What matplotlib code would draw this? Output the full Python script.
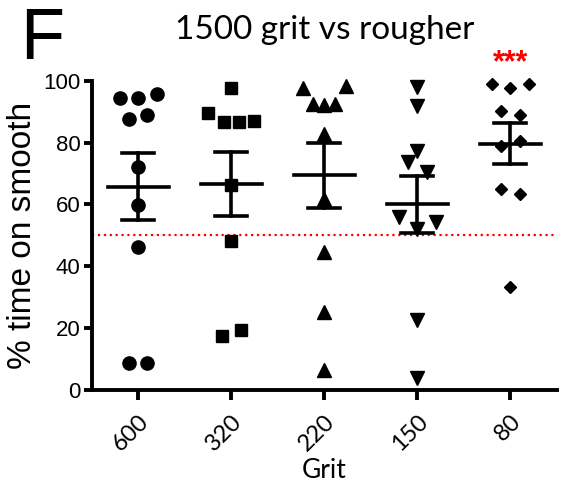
import numpy as np
import matplotlib
matplotlib.use("Agg")
import matplotlib.pyplot as plt

# grit groups and per-animal % time on smooth
grits = ["600", "320", "220", "150", "80"]
vals_600 = [94.3, 94.3, 95.7, 87.7, 88.9, 72.2, 59.8, 46.3, 8.6, 8.6]
vals_320 = [97.7, 89.7, 86.5, 86.5, 87.0, 66.2, 48.2, 17.5, 19.4]
vals_220 = [97.5, 98.3, 92.6, 92.2, 92.6, 82.8, 61.8, 44.6, 25.3, 6.5]
vals_150 = [98.0, 91.9, 77.4, 73.7, 70.4, 55.9, 52.2, 54.4, 22.6, 3.8]
vals_80 = [99.0, 97.7, 99.0, 90.3, 89.0, 78.8, 80.5, 65.0, 63.4, 33.3]

# horizontal scatter offsets (category units)
off_600 = [-0.2, 0, 0.2, -0.1, 0.1, 0, 0, 0, -0.1, 0.1]
off_320 = [0, -0.25, -0.08, 0.08, 0.25, 0, 0, -0.1, 0.1]
off_220 = [-0.23, 0.23, -0.12, 0, 0.12, 0, 0, 0, 0, 0]
off_150 = [0, 0, 0, -0.1, 0.1, -0.2, 0, 0.2, 0, 0]
off_80 = [-0.2, 0, 0.2, -0.1, 0.1, -0.1, 0.1, -0.1, 0.1, 0]

groups = [vals_600, vals_320, vals_220, vals_150, vals_80]
offsets = [off_600, off_320, off_220, off_150, off_80]
markers = ["o", "s", "^", "v", "D"]
msizes = [9.5, 8.5, 9.5, 9.5, 6.5]

chance = 50

plt.rcParams["font.family"] = ["Liberation Sans", "DejaVu Sans"]

fig = plt.figure(figsize=(5.66, 4.83), dpi=100)
ax = fig.add_axes([0.162, 0.1925, 0.8216, 0.6405])

for i, (v, o) in enumerate(zip(groups, offsets)):
    v = np.array(v)
    x = i + np.array(o)
    ax.plot(x, v, linestyle="none", marker=markers[i], ms=msizes[i],
            color="black", mec="black", zorder=3, clip_on=False)
    m = v.mean()
    sem = v.std(ddof=1) / np.sqrt(len(v))
    ax.plot([i - 0.33, i + 0.33], [m, m], color="black", lw=2.6, zorder=4)
    ax.plot([i, i], [m - sem, m + sem], color="black", lw=2.6, zorder=4)
    for y in (m - sem, m + sem):
        ax.plot([i - 0.175, i + 0.175], [y, y], color="black", lw=2.6, zorder=4)

ax.axhline(chance, color="red", lw=1.6, linestyle=":", zorder=2)

ax.set_xlim(-0.5, 4.5)
ax.set_ylim(0, 100)
ax.set_yticks([0, 20, 40, 60, 80, 100])
ax.set_xticks(range(len(grits)))
ax.set_xticklabels(grits, rotation=45, ha="right", rotation_mode="anchor",
                   family="Lato", fontsize=17)
ax.tick_params(axis="y", labelsize=16, width=2.8, length=6, pad=2)
ax.tick_params(axis="x", width=2.8, length=7, pad=8)

for s in ("top", "right"):
    ax.spines[s].set_visible(False)
for s in ("left", "bottom"):
    ax.spines[s].set_linewidth(2.8)

ax.set_ylabel("% time on smooth", fontsize=24, labelpad=4)
ax.set_xlabel("Grit", family="Lato", fontsize=19, labelpad=2)
ax.set_title("1500 grit vs rougher", family="Lato", fontsize=24, pad=30)

ax.text(4, 105.5, "***", color="red", ha="center", va="center",
        fontsize=22, fontweight="bold", clip_on=False)
fig.text(0.035, 0.985, "F", fontsize=52, va="top", ha="left")

fig.savefig("out.png", dpi=100)
